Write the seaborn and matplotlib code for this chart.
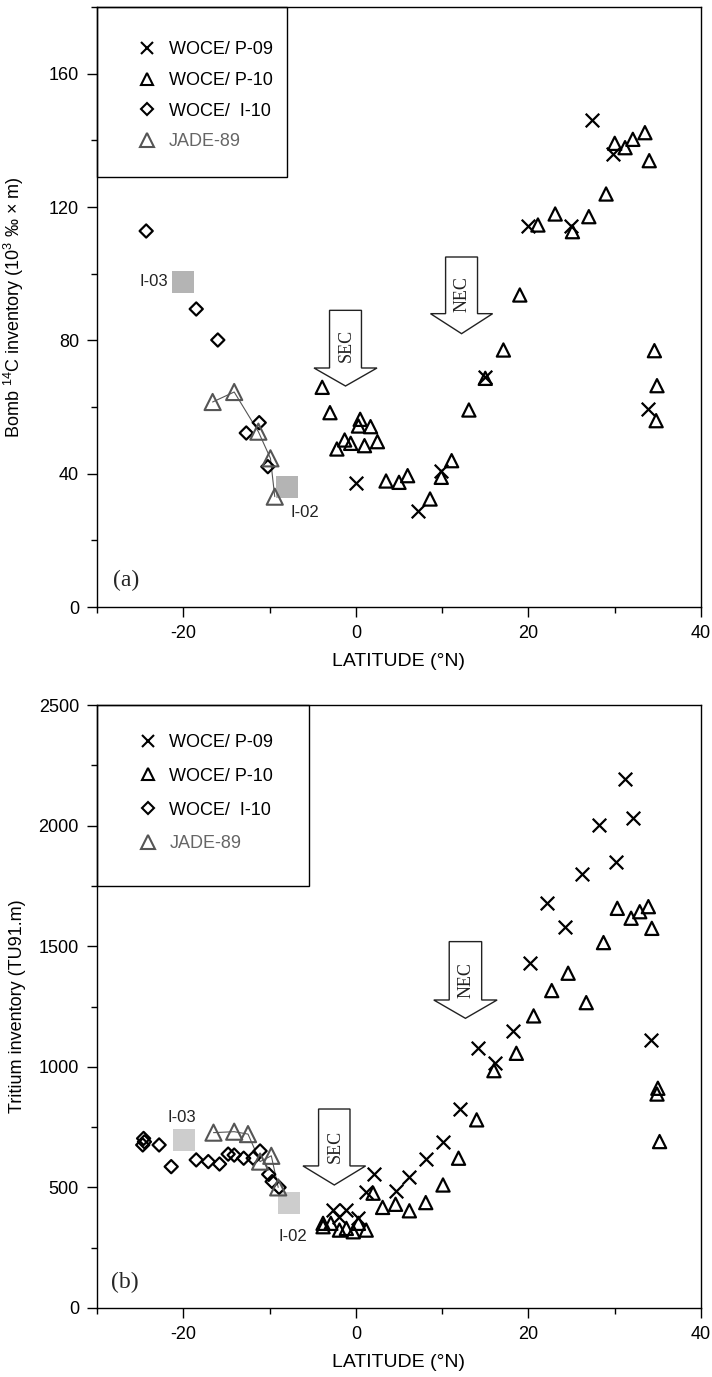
import matplotlib
matplotlib.use("Agg")
import numpy as np
import pandas as pd
import matplotlib.pyplot as plt
import seaborn as sns
from matplotlib.lines import Line2D
from matplotlib.patches import Polygon, Rectangle
from matplotlib.ticker import MultipleLocator

sns.set_theme(style="white")
plt.rcParams['font.family'] = ['Liberation Sans', 'DejaVu Sans']
plt.rcParams['mathtext.default'] = 'regular'
plt.rcParams['mathtext.fontset'] = 'custom'
plt.rcParams['mathtext.rm'] = 'Liberation Sans'
plt.rcParams['mathtext.it'] = 'Liberation Sans'
plt.rcParams['mathtext.bf'] = 'Liberation Sans'
plt.rcParams['axes.unicode_minus'] = False

# ---------------- data: panel (a) bomb 14C inventory ----------------
a_p09_lat = [0.0, 7.2, 9.9, 15.0, 19.9, 24.9, 27.4, 29.8, 33.8]
a_p09_val = [37.1, 28.9, 40.9, 68.9, 114.3, 114.3, 146.1, 136.0, 59.3]

a_p10_lat = [-3.9, -3.0, -2.2, -1.3, -0.6, 0.3, 0.5, 1.0, 1.7, 2.5, 3.5, 5.0, 6.0,
             8.6, 9.9, 11.1, 13.1, 15.0, 17.1, 19.0, 21.1, 23.1, 25.1, 27.0, 29.0,
             30.0, 31.2, 32.1, 33.5, 34.0, 34.6, 34.9, 34.8]
a_p10_val = [65.9, 58.3, 47.4, 50.1, 49.1, 54.3, 56.3, 48.4, 54.1, 49.6, 37.8, 37.4, 39.4,
             32.4, 38.9, 43.9, 59.1, 68.6, 77.1, 93.6, 114.6, 117.9, 112.6, 117.1, 123.9,
             139.1, 137.8, 140.3, 142.3, 133.9, 76.9, 66.4, 55.9]

a_i10_lat = [-24.3, -18.5, -16.0, -12.7, -11.2, -10.2]
a_i10_val = [112.8, 89.4, 80.1, 52.2, 55.3, 42.1]

a_jade_lat = [-16.6, -14.1, -11.3, -9.9, -9.4]
a_jade_val = [61.5, 64.5, 52.6, 44.6, 33.1]

a_sq_lat = [-20.0, -8.0]
a_sq_val = [97.6, 35.9]

# ---------------- data: panel (b) tritium inventory ----------------
b_p09_lat = [-2.6, -1.9, -1.1, 0.3, 1.2, 2.1, 4.6, 6.2, 8.1, 10.1, 12.1, 14.2, 16.1,
             18.2, 20.2, 22.2, 24.2, 26.2, 28.2, 30.1, 31.2, 32.1, 34.2]
b_p09_val = [406, 379, 406, 372, 483, 556, 486, 544, 616, 690, 825, 1077, 1017,
             1150, 1432, 1678, 1581, 1798, 2002, 1850, 2195, 2030, 1111]

b_p10_lat = [-3.8, -3.8, -2.9, -1.9, -1.1, -0.3, 0.3, 1.2, 2.0, 3.1, 4.6, 6.2, 8.1,
             10.1, 11.9, 14.0, 16.0, 18.6, 20.6, 22.7, 24.6, 26.7, 28.7, 30.3, 31.9,
             32.9, 33.9, 34.3, 35.0, 34.9, 35.2]
b_p10_val = [351, 337, 351, 323, 330, 316, 351, 323, 476, 417, 430, 403, 437,
             510, 621, 780, 984, 1056, 1211, 1316, 1388, 1266, 1515, 1657, 1616,
             1643, 1664, 1574, 911, 887, 690]

b_i10_lat = [-24.6, -24.5, -24.7, -22.8, -21.4, -18.5, -17.1, -15.8, -14.8, -14.1,
             -13.0, -11.9, -11.1, -10.1, -9.7, -8.9]
b_i10_val = [703, 689, 676, 676, 586, 614, 607, 597, 638, 634,
             621, 621, 651, 554, 524, 500]

b_jade_lat = [-16.5, -14.1, -12.5, -11.1, -9.8, -9.0]
b_jade_val = [727, 731, 721, 607, 631, 500]

b_sq_lat = [-19.9, -7.8]
b_sq_val = [697, 434]

sq_labels = ["I-03", "I-02"]
legend_labels = ["WOCE/ P-09", "WOCE/ P-10", "WOCE/  I-10", "JADE-89"]

BLACK = "black"
JADE_C = "#555555"

fig = plt.figure(figsize=(7.12, 13.77), dpi=100)
ax_a = fig.add_axes([97 / 712, 1 - 607 / 1377, 604 / 712, 600 / 1377])
ax_b = fig.add_axes([97 / 712, 1 - 1308 / 1377, 604 / 712, 603 / 1377])


def arrow(ax, cx, half_box, half_head, top, base, tip, text, text_y, fs):
    pts = [(cx - half_box, top), (cx + half_box, top), (cx + half_box, base),
           (cx + half_head, base), (cx, tip), (cx - half_head, base),
           (cx - half_box, base)]
    ax.add_patch(Polygon(pts, closed=True, facecolor="white", edgecolor="#222222",
                         lw=1.0, zorder=1))
    ax.text(cx + 0.1, text_y, text, rotation=90, ha="center", va="center",
            family=["Liberation Serif", "DejaVu Serif"], fontsize=fs, color="#222222",
            zorder=2)


def draw_panel(ax, p09, p10, i10, jade, sq, sq_color):
    sns.scatterplot(x=p09[0], y=p09[1], marker="x", s=95, color=BLACK,
                    linewidth=1.6, ax=ax, legend=False, zorder=3)
    sns.scatterplot(x=p10[0], y=p10[1], marker="^", s=90, facecolor="none",
                    edgecolor=BLACK, linewidth=1.6, ax=ax, legend=False, zorder=3)
    sns.scatterplot(x=i10[0], y=i10[1], marker="D", s=45, facecolor="none",
                    edgecolor=BLACK, linewidth=1.6, ax=ax, legend=False, zorder=3)
    sns.lineplot(x=jade[0], y=jade[1], sort=False, color=JADE_C, lw=0.8, ax=ax,
                 legend=False, zorder=2)
    sns.scatterplot(x=jade[0], y=jade[1], marker="^", s=135, facecolor="none",
                    edgecolor=JADE_C, linewidth=1.5, ax=ax, legend=False, zorder=3)
    sns.scatterplot(x=sq[0], y=sq[1], marker="s", s=230, color=sq_color,
                    linewidth=0, ax=ax, legend=False, zorder=2)


draw_panel(ax_a, (a_p09_lat, a_p09_val), (a_p10_lat, a_p10_val),
           (a_i10_lat, a_i10_val), (a_jade_lat, a_jade_val),
           (a_sq_lat, a_sq_val), "#b4b4b4")
draw_panel(ax_b, (b_p09_lat, b_p09_val), (b_p10_lat, b_p10_val),
           (b_i10_lat, b_i10_val), (b_jade_lat, b_jade_val),
           (b_sq_lat, b_sq_val), "#cdcdcd")

# arrows
arrow(ax_a, -1.2, 1.85, 3.65, 89, 71.7, 66.3, "SEC", 78.5, 13)
arrow(ax_a, 12.25, 1.85, 3.6, 105, 88, 82, "NEC", 94, 13)
arrow(ax_b, -2.5, 1.82, 3.63, 825, 589, 510, "SEC", 669, 13)
arrow(ax_b, 12.7, 1.88, 3.67, 1519, 1277, 1201, "NEC", 1360, 13)

# square labels
ax_a.text(a_sq_lat[0] - 1.7, a_sq_val[0], sq_labels[0], ha="right", va="center",
          fontsize=12, color="#222222")
ax_a.text(a_sq_lat[1] + 0.4, a_sq_val[1] - 7.5, sq_labels[1], ha="left", va="center",
          fontsize=12, color="#222222")
ax_b.text(b_sq_lat[0] - 0.3, b_sq_val[0] + 93, sq_labels[0], ha="center", va="center",
          fontsize=12, color="#222222")
ax_b.text(b_sq_lat[1] + 0.5, b_sq_val[1] - 138, sq_labels[1], ha="center", va="center",
          fontsize=12, color="#222222")

# panel letters
ax_a.text(0.048, 0.045, "(a)", transform=ax_a.transAxes, ha="center", va="center",
          family=["Liberation Serif", "DejaVu Serif"], fontsize=17)
ax_b.text(0.046, 0.042, "(b)", transform=ax_b.transAxes, ha="center", va="center",
          family=["Liberation Serif", "DejaVu Serif"], fontsize=17)

# axes formatting
for ax, ylim, ymaj, ymin, ylabel in [
        (ax_a, (0, 180), 40, 20, "Bomb $^{14}$C inventory (10$^{3}$ \u2030 \u00d7 m)"),
        (ax_b, (0, 2500), 500, 250, "Tritium inventory (TU91.m)")]:
    ax.set_xlim(-30, 40)
    ax.set_ylim(*ylim)
    ax.xaxis.set_major_locator(MultipleLocator(20))
    ax.xaxis.set_minor_locator(MultipleLocator(10))
    ax.yaxis.set_major_locator(MultipleLocator(ymaj))
    ax.yaxis.set_minor_locator(MultipleLocator(ymin))
    ax.tick_params(which="both", direction="out", bottom=True, left=True,
                   top=False, right=False, color="black", width=1)
    ax.tick_params(which="major", length=7, labelsize=13, pad=6, labelcolor="black")
    ax.tick_params(which="minor", length=4)
    for sp in ax.spines.values():
        sp.set_color("black")
        sp.set_linewidth(1.0)
    ax.set_xlabel("LATITUDE (\u00b0N)", fontsize=14, color="black")
    ax.set_ylabel(ylabel, fontsize=13, color="black")
    ax.xaxis.set_label_coords(0.5, -0.077)
    ax.yaxis.set_label_coords(-0.118, 0.5)
    ax.set_facecolor("white")


def make_legend(ax, box_w, box_h, anchor, spacing):
    handles = [
        Line2D([], [], ls="none", marker="x", color=BLACK, ms=9, mew=1.5),
        Line2D([], [], ls="none", marker="^", mfc="none", mec=BLACK, ms=8, mew=1.5),
        Line2D([], [], ls="none", marker="D", mfc="none", mec=BLACK, ms=6, mew=1.5),
        Line2D([], [], ls="none", marker="^", mfc="none", mec=JADE_C, ms=10.5, mew=1.5),
    ]
    leg = ax.legend(handles, legend_labels, loc="upper left", bbox_to_anchor=anchor,
                    frameon=False, borderpad=0, borderaxespad=0, fontsize=13,
                    handlelength=1.2, handletextpad=0.6, labelspacing=spacing)
    leg.get_texts()[3].set_color("#666666")
    for t in leg.get_texts()[:3]:
        t.set_color("black")
    ax.add_patch(Rectangle((0, 1 - box_h), box_w, box_h, transform=ax.transAxes,
                           fill=False, edgecolor="black", lw=1.0, zorder=4,
                           clip_on=False))


make_legend(ax_a, 190 / 604, 170 / 600, (0.0646, 0.943), 0.76)
make_legend(ax_b, 212 / 604, 181 / 603, (0.0662, 0.952), 0.93)

fig.savefig("out.png", dpi=100, facecolor="white")
